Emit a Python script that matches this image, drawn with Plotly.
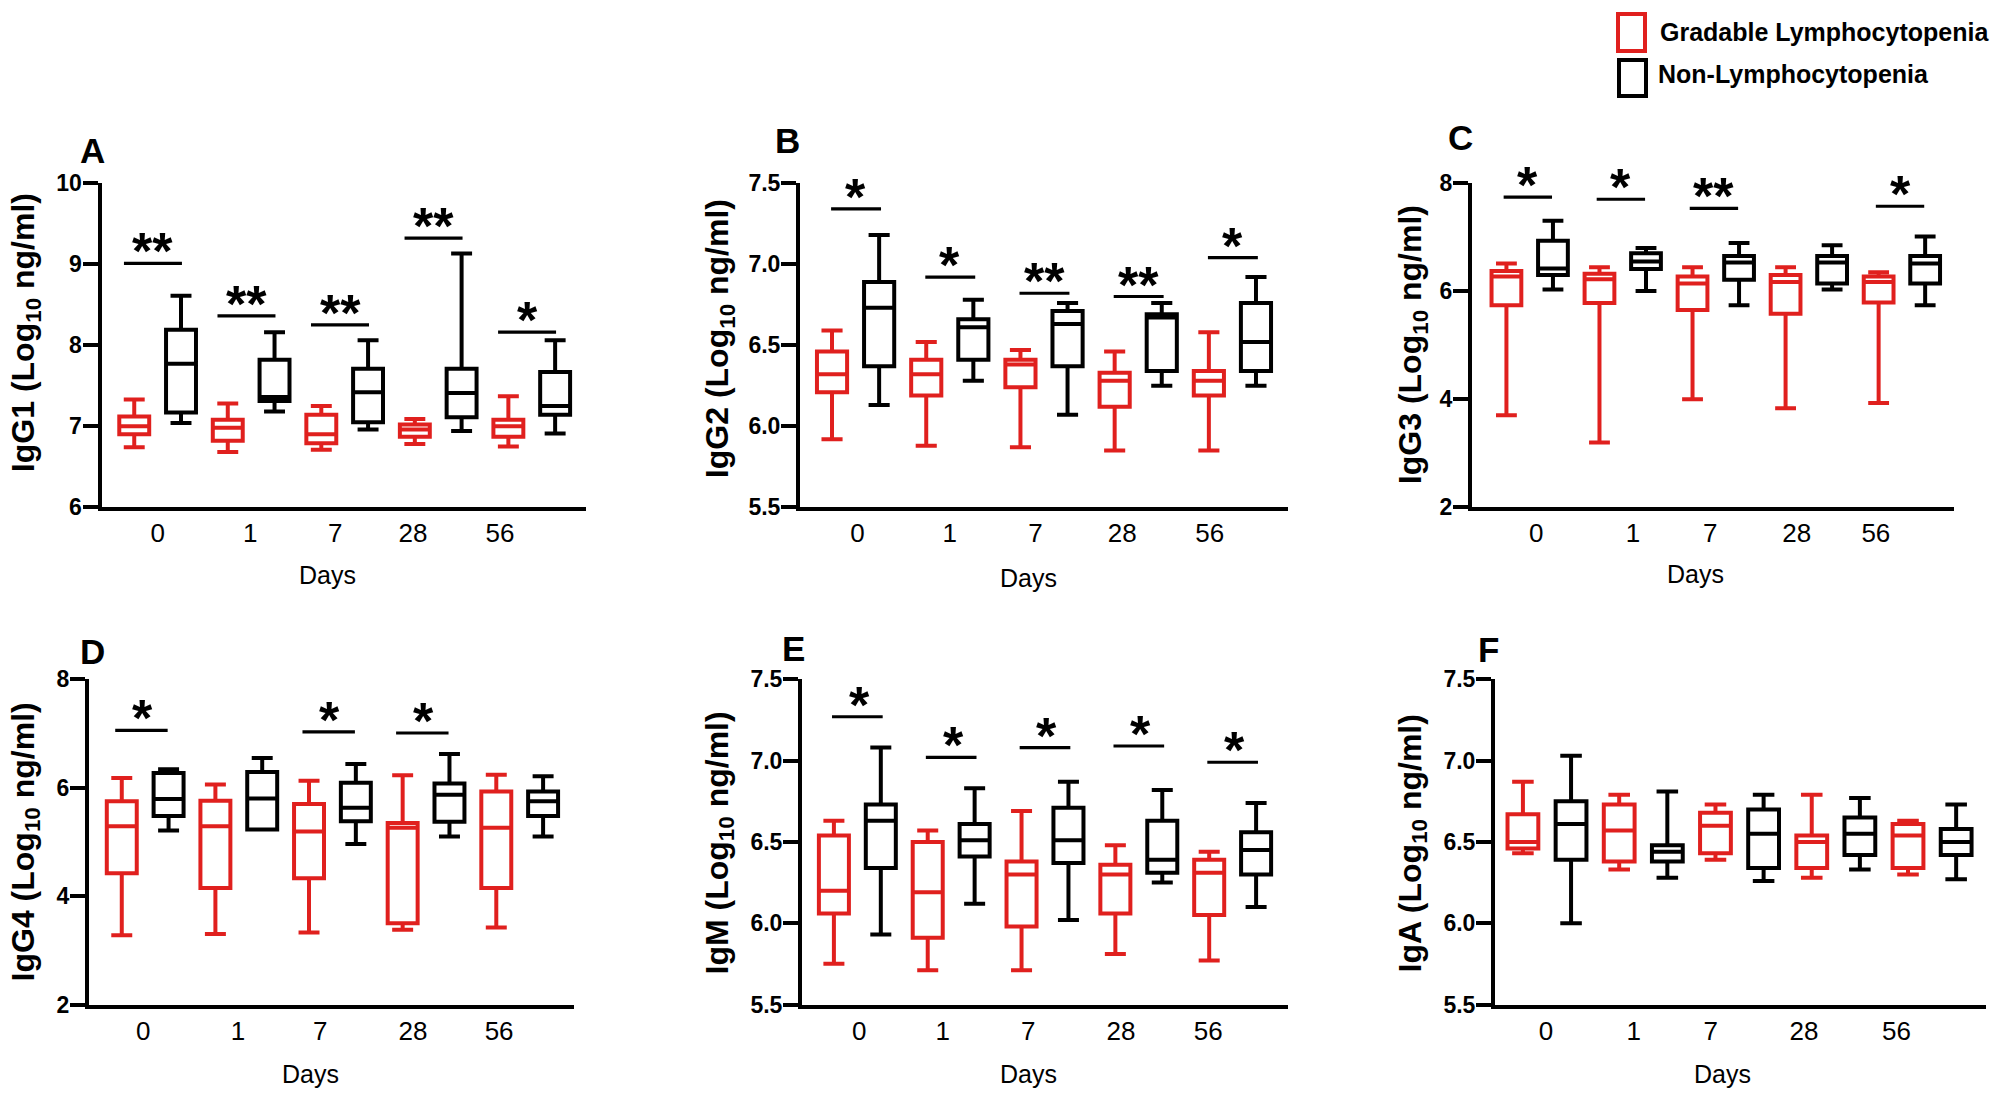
import plotly.graph_objects as go

W, H = 1990, 1104
FONT = "Liberation Sans, Arial, sans-serif"
RED = "#E0201E"
BLACK = "#000000"

# ---------------- data ----------------
DAY_LABELS = ["0", "1", "7", "28", "56"]
GROUP_NAMES = ["Gradable Lymphocytopenia", "Non-Lymphocytopenia"]

# A  IgG1
A_RED_MIN = [6.74, 6.68, 6.71, 6.78, 6.75]
A_RED_Q1 = [6.90, 6.82, 6.79, 6.87, 6.87]
A_RED_MED = [7.00, 6.98, 6.90, 6.96, 7.00]
A_RED_Q3 = [7.12, 7.08, 7.14, 7.02, 7.08]
A_RED_MAX = [7.33, 7.28, 7.25, 7.09, 7.37]
A_BLK_MIN = [7.04, 7.18, 6.96, 6.94, 6.91]
A_BLK_Q1 = [7.17, 7.31, 7.05, 7.11, 7.14]
A_BLK_MED = [7.77, 7.36, 7.42, 7.41, 7.25]
A_BLK_Q3 = [8.19, 7.82, 7.71, 7.71, 7.67]
A_BLK_MAX = [8.61, 8.16, 8.06, 9.13, 8.06]
A_SIG_DAY = [0, 1, 2, 3, 4]
A_SIG_TXT = ["**", "**", "**", "**", "*"]
A_SIG_Y = [9.01, 8.36, 8.25, 9.32, 8.16]

# B  IgG2
B_RED_MIN = [5.92, 5.88, 5.87, 5.85, 5.85]
B_RED_Q1 = [6.21, 6.19, 6.24, 6.12, 6.19]
B_RED_MED = [6.32, 6.32, 6.38, 6.28, 6.28]
B_RED_Q3 = [6.46, 6.41, 6.41, 6.33, 6.34]
B_RED_MAX = [6.59, 6.52, 6.47, 6.46, 6.58]
B_BLK_MIN = [6.13, 6.28, 6.07, 6.25, 6.25]
B_BLK_Q1 = [6.37, 6.41, 6.37, 6.34, 6.34]
B_BLK_MED = [6.73, 6.61, 6.63, 6.67, 6.52]
B_BLK_Q3 = [6.89, 6.66, 6.71, 6.69, 6.76]
B_BLK_MAX = [7.18, 6.78, 6.76, 6.76, 6.92]
B_SIG_DAY = [0, 1, 2, 3, 4]
B_SIG_TXT = ["*", "*", "**", "**", "*"]
B_SIG_Y = [7.34, 6.92, 6.82, 6.80, 7.04]

# C  IgG3
C_RED_MIN = [3.70, 3.20, 4.00, 3.83, 3.93]
C_RED_Q1 = [5.74, 5.78, 5.65, 5.58, 5.79]
C_RED_MED = [6.27, 6.22, 6.14, 6.17, 6.17]
C_RED_Q3 = [6.37, 6.32, 6.27, 6.30, 6.27]
C_RED_MAX = [6.51, 6.44, 6.44, 6.44, 6.35]
C_BLK_MIN = [6.03, 6.00, 5.74, 6.03, 5.74]
C_BLK_Q1 = [6.30, 6.41, 6.21, 6.14, 6.14]
C_BLK_MED = [6.42, 6.55, 6.53, 6.53, 6.51]
C_BLK_Q3 = [6.93, 6.70, 6.65, 6.65, 6.65]
C_BLK_MAX = [7.30, 6.80, 6.89, 6.85, 7.01]
C_SIG_DAY = [0, 1, 2, 4]
C_SIG_TXT = ["*", "*", "**", "*"]
C_SIG_Y = [7.74, 7.70, 7.53, 7.57]

# D  IgG4
D_RED_MIN = [3.28, 3.30, 3.33, 3.38, 3.42]
D_RED_Q1 = [4.42, 4.15, 4.33, 3.50, 4.15]
D_RED_MED = [5.29, 5.29, 5.19, 5.26, 5.26]
D_RED_Q3 = [5.75, 5.76, 5.70, 5.35, 5.93]
D_RED_MAX = [6.18, 6.06, 6.13, 6.23, 6.24]
D_BLK_MIN = [5.21, 5.23, 4.96, 5.10, 5.10]
D_BLK_Q1 = [5.48, 5.23, 5.38, 5.37, 5.48]
D_BLK_MED = [5.79, 5.80, 5.63, 5.87, 5.75]
D_BLK_Q3 = [6.27, 6.29, 6.09, 6.08, 5.93]
D_BLK_MAX = [6.34, 6.55, 6.44, 6.62, 6.21]
D_SIG_DAY = [0, 2, 3]
D_SIG_TXT = ["*", "*", "*"]
D_SIG_Y = [7.06, 7.03, 7.01]

# E  IgM
E_RED_MIN = [5.75, 5.71, 5.71, 5.81, 5.77]
E_RED_Q1 = [6.06, 5.91, 5.98, 6.06, 6.05]
E_RED_MED = [6.20, 6.19, 6.30, 6.30, 6.31]
E_RED_Q3 = [6.54, 6.50, 6.38, 6.36, 6.39]
E_RED_MAX = [6.63, 6.57, 6.69, 6.48, 6.44]
E_BLK_MIN = [5.93, 6.12, 6.02, 6.25, 6.10]
E_BLK_Q1 = [6.34, 6.41, 6.37, 6.31, 6.30]
E_BLK_MED = [6.63, 6.51, 6.51, 6.39, 6.45]
E_BLK_Q3 = [6.73, 6.61, 6.71, 6.63, 6.56]
E_BLK_MAX = [7.08, 6.83, 6.87, 6.82, 6.74]
E_SIG_DAY = [0, 1, 2, 3, 4]
E_SIG_TXT = ["*", "*", "*", "*", "*"]
E_SIG_Y = [7.27, 7.02, 7.08, 7.09, 6.99]

# F  IgA
F_RED_MIN = [6.43, 6.33, 6.39, 6.28, 6.30]
F_RED_Q1 = [6.46, 6.38, 6.43, 6.34, 6.34]
F_RED_MED = [6.50, 6.57, 6.60, 6.50, 6.54]
F_RED_Q3 = [6.67, 6.73, 6.68, 6.54, 6.61]
F_RED_MAX = [6.87, 6.79, 6.73, 6.79, 6.63]
F_BLK_MIN = [6.00, 6.28, 6.26, 6.33, 6.27]
F_BLK_Q1 = [6.39, 6.38, 6.34, 6.42, 6.42]
F_BLK_MED = [6.61, 6.44, 6.55, 6.55, 6.50]
F_BLK_Q3 = [6.75, 6.48, 6.70, 6.65, 6.58]
F_BLK_MAX = [7.03, 6.81, 6.79, 6.77, 6.73]
F_SIG_DAY = []
F_SIG_TXT = []
F_SIG_Y = []

Y_TITLES = ["IgG1", "IgG2", "IgG3", "IgG4", "IgM", "IgA"]
PANEL_LETTERS = ["A", "B", "C", "D", "E", "F"]

# ---------------- layout (pixel geometry, not data) ----------------
BOX_PX = [
    (101.5, 586, 182, 506),
    (800, 1288, 182, 506),
    (1472, 1954, 182, 506),
    (89, 574, 678, 1003),
    (802, 1288, 678, 1003),
    (1495, 1986, 678, 1003),
]
X_RANGES = [(-0.6, 4.58), (-0.59, 4.59), (-0.62, 4.56), (-0.6, 4.58), (-0.59, 4.59), (-0.54, 4.56)]
TICK_POS = [
    [0.0, 0.99, 1.90, 2.73, 3.66],
    [0.02, 1.0, 1.91, 2.83, 3.76],
    [0.07, 1.11, 1.94, 2.87, 3.72],
    [-0.02, 0.99, 1.87, 2.86, 3.78],
    [0.02, 0.91, 1.82, 2.81, 3.74],
    [-0.01, 0.90, 1.70, 2.67, 3.63],
]
SIG_SPAN = [(-0.36, 0.26, -0.05), (-0.26, 0.27, 0.0), (-0.28, 0.24, -0.02),
            (-0.32, 0.24, -0.03), (-0.27, 0.27, 0.02), (-0.3, 0.25, 0.0)]
Y_RANGES = [(6, 10), (5.5, 7.5), (2, 8), (2, 8), (5.5, 7.5), (5.5, 7.5)]
Y_DTICK = [1, 0.5, 2, 2, 0.5, 0.5]
Y_FMT = ["d", ".1f", "d", "d", ".1f", ".1f"]
LETTER_PX = [(92, 149), (787, 139), (1460, 136), (92, 650), (793, 647), (1488, 648)]
YTITLE_PX = [(25, 332), (719, 338), (1412, 344), (25, 841), (719, 842), (1412, 842)]
DAYS_PX = [(327, 574), (1028, 577), (1695, 573), (310, 1072), (1028, 1072), (1722, 1072)]
LEG_SQ_PX = [(1618, 13, 1645, 50), (1619, 59, 1646, 95)]
LEG_TXT_PX = [(1658, 31), (1656, 73)]

# vertical calibration of the photographed page (rows come out slightly letter-boxed)
V_SCALE, V_OFF = 1.0247, -12.35

GROUP_OFFSET = 0.25
BOX_WIDTH = 0.32
LINE_W = 4
SIG_W = 3.2
STAR_SIZE = 52


def vy(py):
    return V_SCALE * py + V_OFF


def px2paper(px, py):
    return px / W, 1 - vy(py) / H


panels = []
for key in "ABCDEF":
    g = globals()
    panels.append(dict(
        red=[g[f"{key}_RED_{s}"] for s in ("MIN", "Q1", "MED", "Q3", "MAX")],
        blk=[g[f"{key}_BLK_{s}"] for s in ("MIN", "Q1", "MED", "Q3", "MAX")],
        sig_day=g[f"{key}_SIG_DAY"], sig_txt=g[f"{key}_SIG_TXT"], sig_y=g[f"{key}_SIG_Y"],
    ))

fig = go.Figure()
layout = dict(
    width=W, height=H, margin=dict(l=0, r=0, t=0, b=0),
    paper_bgcolor="white", plot_bgcolor="white", showlegend=False,
    font=dict(family=FONT, color="black"),
)
shapes, annots = [], []

for k, p in enumerate(panels):
    sfx = "" if k == 0 else str(k + 1)
    xa, ya = "x" + sfx, "y" + sfx
    n = len(DAY_LABELS)
    for gi, (stats, color, off) in enumerate(((p["red"], RED, -GROUP_OFFSET), (p["blk"], BLACK, GROUP_OFFSET))):
        mn, q1, md, q3, mx = stats
        fig.add_trace(go.Box(
            x=[i + off for i in range(n)], lowerfence=mn, q1=q1, median=md, q3=q3, upperfence=mx,
            orientation="v", width=BOX_WIDTH, whiskerwidth=0.7, boxpoints=False,
            line=dict(color=color, width=LINE_W), fillcolor="rgba(255,255,255,0)",
            name=GROUP_NAMES[gi], xaxis=xa, yaxis=ya, hoverinfo="skip",
        ))
    x0, x1, yt, yb = BOX_PX[k]
    layout["xaxis" + sfx] = dict(
        domain=[x0 / W, x1 / W], anchor=ya, range=list(X_RANGES[k]),
        tickmode="array", tickvals=TICK_POS[k], ticktext=DAY_LABELS, ticks="",
        showline=True, linecolor="black", linewidth=LINE_W, showgrid=False, zeroline=False,
        tickfont=dict(family=FONT, size=26, color="black"), fixedrange=True,
    )
    layout["yaxis" + sfx] = dict(
        domain=[1 - vy(yb) / H, 1 - vy(yt) / H], anchor=xa, range=list(Y_RANGES[k]),
        tick0=Y_RANGES[k][0], dtick=Y_DTICK[k], tickformat=Y_FMT[k],
        ticks="outside", ticklen=15, tickwidth=LINE_W, tickcolor="black",
        showline=True, linecolor="black", linewidth=LINE_W, showgrid=False, zeroline=False,
        ticklabelstandoff=-4,
        tickfont=dict(family=FONT, size=23, color="black", weight="bold"), fixedrange=True,
    )
    sl, sr, ss = SIG_SPAN[k]
    for d, t, yv in zip(p["sig_day"], p["sig_txt"], p["sig_y"]):
        shapes.append(dict(type="line", xref=xa, yref=ya, x0=d + sl, x1=d + sr,
                           y0=yv, y1=yv, line=dict(color="black", width=SIG_W)))
        annots.append(dict(xref=xa, yref=ya, x=d + ss, y=yv, text="<b>%s</b>" % t,
                           showarrow=False, yanchor="middle", yshift=12,
                           font=dict(family=FONT, size=STAR_SIZE, color="black")))
    lx, ly = px2paper(*LETTER_PX[k])
    annots.append(dict(xref="paper", yref="paper", x=lx, y=ly, text="<b>%s</b>" % PANEL_LETTERS[k],
                       showarrow=False, xanchor="center", yanchor="middle",
                       font=dict(family=FONT, size=35, color="black")))
    tx, ty = px2paper(*YTITLE_PX[k])
    annots.append(dict(xref="paper", yref="paper", x=tx, y=ty,
                       text="<b>%s (Log<sub>10</sub> ng/ml)</b>" % Y_TITLES[k],
                       showarrow=False, textangle=-90, xanchor="center", yanchor="middle",
                       font=dict(family=FONT, size=32, color="black")))
    dx, dy = px2paper(*DAYS_PX[k])
    annots.append(dict(xref="paper", yref="paper", x=dx, y=dy, text="Days",
                       showarrow=False, xanchor="center", yanchor="middle",
                       font=dict(family=FONT, size=25, color="black")))

# legend (outlined squares + labels)
for (sx0, sy0, sx1, sy1), (tx, ty), color, name in zip(LEG_SQ_PX, LEG_TXT_PX, (RED, BLACK), GROUP_NAMES):
    a0, b0 = px2paper(sx0, sy0)
    a1, b1 = px2paper(sx1, sy1)
    shapes.append(dict(type="rect", xref="paper", yref="paper", x0=a0, x1=a1, y0=b1, y1=b0,
                       line=dict(color=color, width=LINE_W), fillcolor="rgba(0,0,0,0)"))
    ax, ay = px2paper(tx, ty)
    annots.append(dict(xref="paper", yref="paper", x=ax, y=ay, text="<b>%s</b>" % name,
                       showarrow=False, xanchor="left", yanchor="middle",
                       font=dict(family=FONT, size=25, color="black")))

layout["shapes"] = shapes
layout["annotations"] = annots
fig.update_layout(**layout)
fig.write_html(
    "out.html",
    config={"displayModeBar": False},
    post_script="document.body.style.margin='0px';document.body.style.overflow='hidden';",
)
